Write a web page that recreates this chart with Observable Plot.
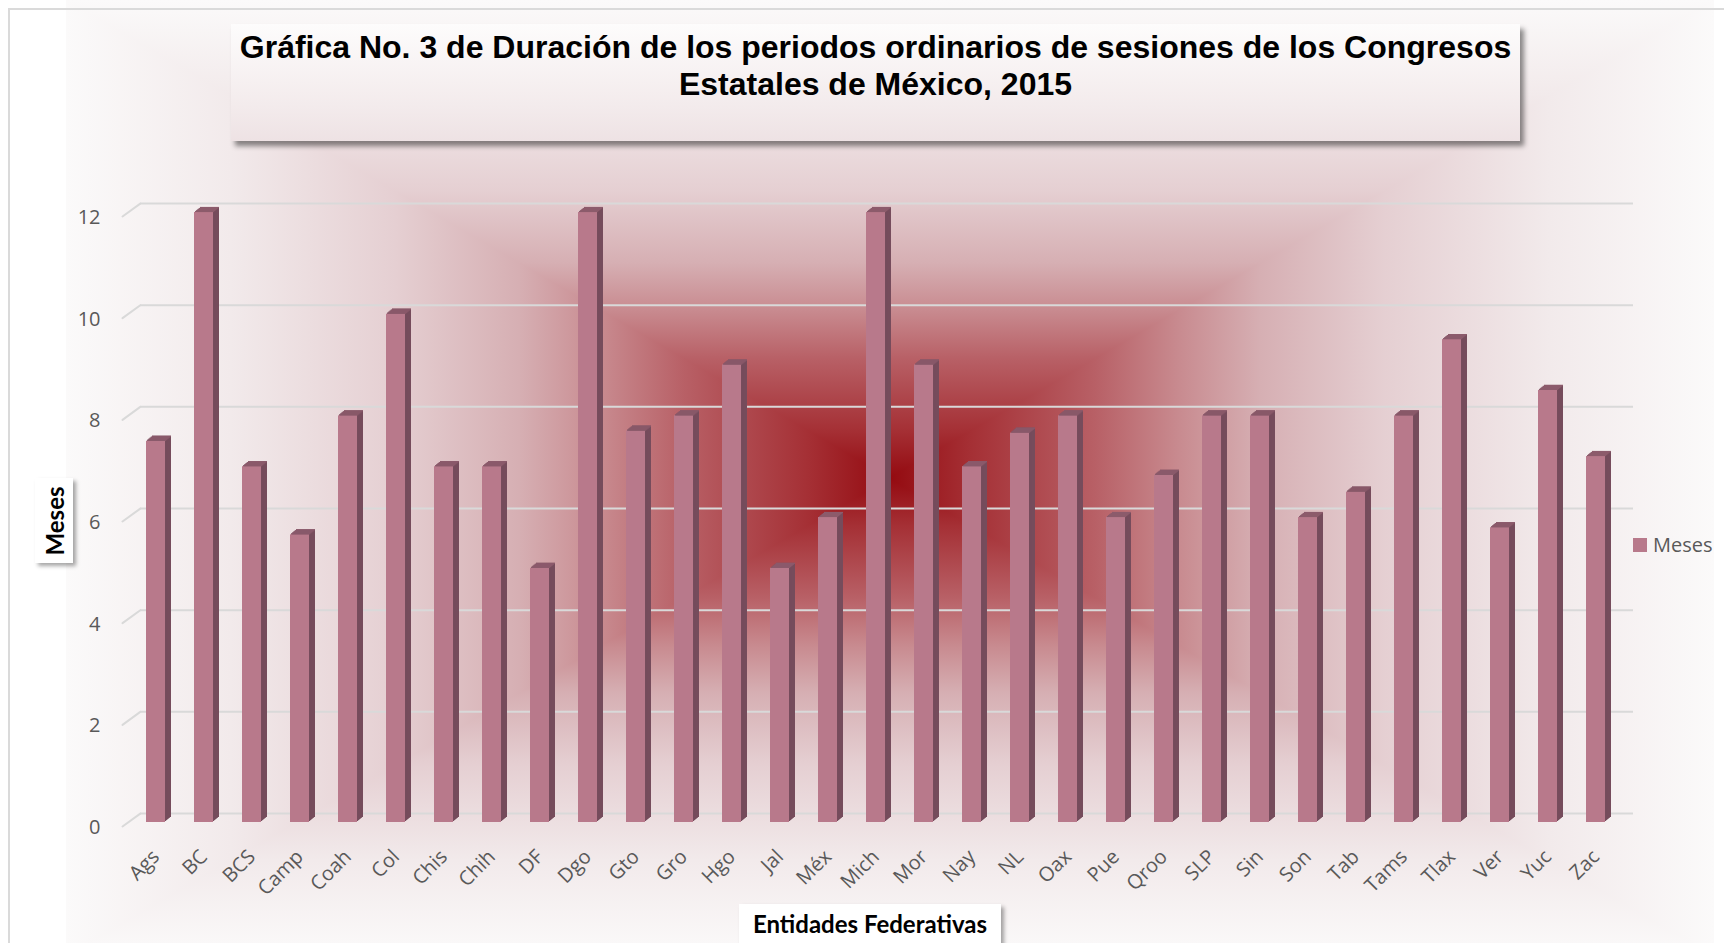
<!DOCTYPE html>
<html>
<head>
<meta charset="utf-8">
<script src="https://cdn.jsdelivr.net/npm/d3@7"></script>
<script src="https://cdn.jsdelivr.net/npm/@observablehq/plot@0.6"></script>
<style>
  html, body { margin: 0; padding: 0; background: #ffffff; }
  #chart { position: relative; width: 1724px; height: 943px; overflow: hidden; background: #ffffff; }
  .g { position: absolute; }
  #frame { position: absolute; left: 8px; top: 8px; width: 1730px; height: 950px; border-top: 2px solid #dadada; border-left: 2px solid #dadada; z-index: 3; }
  #plot { position: absolute; left: 0; top: 0; z-index: 2; }
  #title { position: absolute; left: 231px; top: 24px; width: 1289px; height: 117px; z-index: 4;
    background: linear-gradient(to bottom, #fdfcfc, #f3ebec 70%, #eee2e4);
    box-shadow: 4px 5px 5px rgba(0,0,0,0.45);
    font-family: "Liberation Sans", Arial, sans-serif; font-weight: bold; font-size: 32px; line-height: 37px;
    color: #000; text-align: center; padding-top: 5px; box-sizing: border-box; }
  #ytitle { position: absolute; left: 35px; top: 478px; width: 38px; height: 85px; z-index: 4; background: #ffffff;
    box-shadow: 3px 3px 4px rgba(0,0,0,0.35); }
  #ytitle span { position: absolute; left: 50%; top: 50%; transform: translate(-50%, -50%) rotate(-90deg);
    font-family: Lato, sans-serif; font-weight: bold; font-size: 24px; color: #000; white-space: nowrap; }
  #xtitle { position: absolute; left: 739px; top: 904px; width: 262px; height: 50px; z-index: 4; background: #ffffff;
    box-shadow: 3px 3px 4px rgba(0,0,0,0.35); font-family: Lato, sans-serif; font-weight: bold; font-size: 24px;
    color: #000; text-align: center; line-height: 40px; }
  #legend { position: absolute; left: 1633px; top: 531px; z-index: 4; font-family: "Open Sans", sans-serif; font-size: 20px;
    color: #595959; display: flex; align-items: center; }
  #legend i { display: inline-block; width: 14px; height: 14px; background: #b8798b; margin-right: 6px; }
</style>
</head>
<body>
<div id="chart">
  <div id="bg"></div>
  <div id="plot"></div>
  <div id="frame"></div>
  <div id="title">Gráfica No. 3 de Duración de los periodos ordinarios de sesiones de los Congresos<br>Estatales de México, 2015</div>
  <div id="ytitle"><span>Meses</span></div>
  <div id="xtitle">Entidades Federativas</div>
  <div id="legend"><i></i><span>Meses</span></div>
</div>
<script>
const categories = ["Ags","BC","BCS","Camp","Coah","Col","Chis","Chih","DF","Dgo","Gto","Gro","Hgo","Jal","Méx","Mich","Mor","Nay","NL","Oax","Pue","Qroo","SLP","Sin","Son","Tab","Tams","Tlax","Ver","Yuc","Zac"];
const values = [7.5,12,7,5.66,8,10,7,7,5,12,7.7,8,9,5,6,12,9,7,7.66,8,6,6.83,8,8,6,6.5,8,9.5,5.8,8.5,7.2];
const yTicks = [0,2,4,6,8,10,12];

const data = categories.map((c, i) => ({cat: c, val: values[i]}));

// Rectangular path gradient background: left/right halves as a base, top/bottom triangles on top
(function () {
  const L = 66, R = 1714, T = 0, B = 956, cx = 890, cy = 478;
  const stops = "rgb(148,10,16) 0%, rgb(165,48,53) 10%, rgb(184,96,102) 25%, rgb(200,138,143) 35%, rgb(214,175,179) 45%, rgb(229,207,210) 60%, rgb(242,234,235) 80%, rgb(251,250,250) 100%";
  const bg = document.getElementById("bg");
  const parts = [
    {l: L, t: T, w: cx - L, h: B - T, dir: "to left", clip: null},
    {l: cx - 1, t: T, w: R - cx + 1, h: B - T, dir: "to right", clip: null},
    {l: L, t: T, w: R - L, h: cy - T, dir: "to top", clip: `polygon(0 0, 100% 0, ${cx - L}px 100%)`},
    {l: L, t: cy, w: R - L, h: B - cy, dir: "to bottom", clip: `polygon(${cx - L}px 0, 100% 100%, 0 100%)`}
  ];
  for (const p of parts) {
    const d = document.createElement("div");
    d.className = "g";
    Object.assign(d.style, {left: p.l + "px", top: p.t + "px", width: p.w + "px", height: p.h + "px",
      background: `linear-gradient(${p.dir}, ${stops})`});
    if (p.clip) d.style.clipPath = p.clip;
    bg.appendChild(d);
  }
})();

const frontColor = "#b8798b", sideColor = "#764c5c", topColor = "#8c5b6c", gridColor = "#d9d9d9";
const depth = [1, 2, 3, 4, 5];
const lineShape = {draw(context, l) { context.moveTo(0, 0); context.lineTo(0, -l); }};

const plot = Plot.plot({
  width: 1724,
  height: 943,
  marginLeft: 114,
  marginRight: 86,
  marginTop: 212,
  marginBottom: 121,
  style: {background: "transparent", fontFamily: "'Open Sans', sans-serif", color: "#595959", overflow: "visible"},
  x: {domain: categories, padding: 0.6, label: null},
  y: {domain: [0, 12], label: null},
  marks: [
    Plot.ruleY(yTicks, {dy: -9, insetLeft: 26, insetRight: 5, stroke: gridColor, strokeWidth: 2}),
    Plot.vector(yTicks, {y: d => d, frameAnchor: "left", dx: 8, dy: 4, length: 22, rotate: 54, anchor: "start",
      shape: lineShape, stroke: gridColor, strokeWidth: 2}),
    ...depth.slice().reverse().map(k => Plot.barY(data, {x: "cat", y: "val", fill: sideColor, dx: 1.2 * k, dy: -k})),
    Plot.barY(data, {x: "cat", y: "val", fill: frontColor}),
    ...depth.map(k => Plot.tickY(data, {x: "cat", y: "val", stroke: topColor, strokeWidth: 1.2, dx: 1.2 * k, dy: -k})),
    Plot.axisY({ticks: yTicks, tickSize: 0, tickPadding: 14, dy: 5, fontSize: 20, label: null}),
    Plot.axisX({tickRotate: -45, tickSize: 0, tickPadding: 31, fontSize: 20, label: null})
  ]
});
document.getElementById("plot").appendChild(plot);
</script>
</body>
</html>
